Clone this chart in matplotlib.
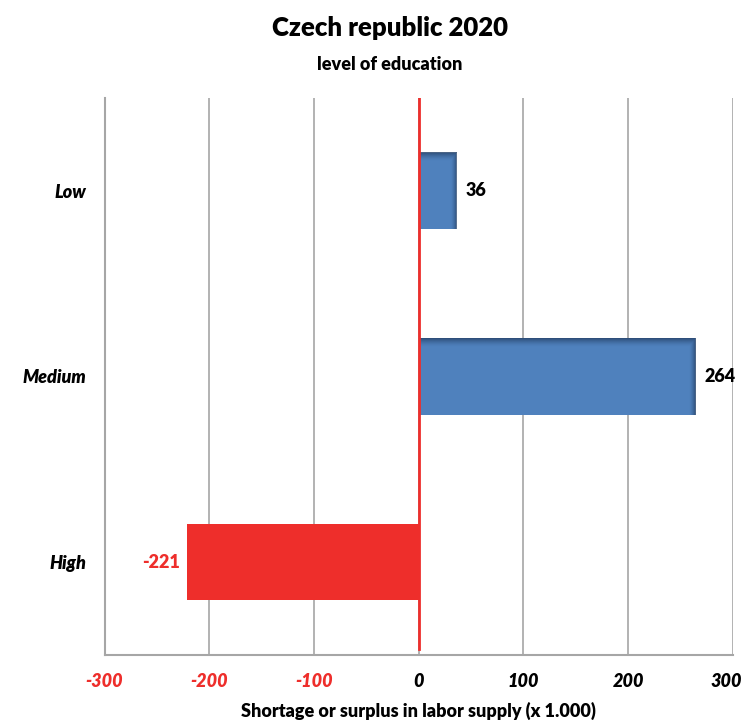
import matplotlib
matplotlib.use('Agg')
import matplotlib.pyplot as plt
import numpy as np

plt.rcParams['font.family'] = ['Lato', 'DejaVu Sans']

levels = ['Low', 'Medium', 'High']
values = [36, 264, -221]
ticks = [-300, -200, -100, 0, 100, 200, 300]

blue = np.array([79, 129, 189]) / 255
blue_dark = np.array([40, 70, 110]) / 255
red = '#EE2E2B'
bar_h = 0.41
fs = 13
wt = 'heavy'

fig = plt.figure(figsize=(7.44, 7.2), dpi=100)
ax = fig.add_axes([0.1405, 0.0903, 0.8445, 0.7736])

ypos = np.arange(len(levels))
colors = [blue if v >= 0 else red for v in values]
bars = ax.barh(ypos, values, height=bar_h, color=colors, zorder=3)

# darker shading along right and bottom edges of the positive bars
for bar, v in zip(bars, values):
    if v < 0:
        continue
    x0, y0 = bar.get_x(), bar.get_y()
    w, h = bar.get_width(), bar.get_height()
    nx, ny = 300, 80
    xs = np.linspace(0, w, nx)
    ys = np.linspace(0, h, ny)
    fx = np.clip(1 - (w - xs) / 6.0, 0, 1)
    fy = np.clip(1 - ys / 0.045, 0, 1)
    f = np.maximum(fx[None, :], fy[:, None]) ** 1.5
    img = np.zeros((ny, nx, 4))
    img[..., :3] = blue_dark
    img[..., 3] = f * 0.85
    ax.imshow(img, extent=(x0, x0 + w, y0 + h, y0), origin='upper',
              aspect='auto', zorder=4, interpolation='bilinear')

ax.set_xlim(-300, 300)
ax.set_ylim(len(levels) - 0.5, -0.5)
ax.set_aspect('auto')

# x tick labels drawn by hand so the last one can be nudged inside the figure
ax.set_xticks(ticks)
ax.set_xticklabels([])
ax.tick_params(axis='x', length=0)
for i, t in enumerate(ticks):
    dx = -5 if i == len(ticks) - 1 else 0
    ax.annotate(str(t), xy=(t, 0), xycoords=ax.get_xaxis_transform(),
                xytext=(dx, -19), textcoords='offset points',
                ha='center', va='center', fontsize=fs, fontweight=wt,
                fontstyle='italic', color=red if t < 0 else 'black',
                annotation_clip=False)

ax.set_yticks(ypos)
ax.set_yticklabels(levels, fontsize=fs, fontweight=wt, fontstyle='italic')
ax.tick_params(axis='y', length=0, pad=13)

ax.grid(axis='x', color='#A6A6A6', linewidth=1.2, zorder=0)
ax.axvline(0, ymin=0.01, ymax=1, color='#EE2E2B', linewidth=2, zorder=5)

for s in ['top', 'right']:
    ax.spines[s].set_visible(False)
for s in ['left', 'bottom']:
    ax.spines[s].set_color('#A6A6A6')
    ax.spines[s].set_linewidth(1.5)

for y, v in zip(ypos, values):
    if v >= 0:
        ax.text(v + 9, y, str(v), ha='left', va='center', fontsize=fs,
                fontweight=wt, color='black', zorder=6)
    else:
        ax.text(v - 7, y, str(v), ha='right', va='center', fontsize=fs,
                fontweight=wt, color=red, zorder=6)

ax.set_xlabel('Shortage or surplus in labor supply (x 1.000)', fontsize=fs,
              fontweight=wt, labelpad=30)

fig.text(0.524, 0.961, 'Czech republic 2020', ha='center', va='center',
         fontsize=18.5, fontweight=wt)
fig.text(0.524, 0.910, 'level of education', ha='center', va='center',
         fontsize=fs, fontweight=wt)

fig.savefig('out.png', dpi=100)
